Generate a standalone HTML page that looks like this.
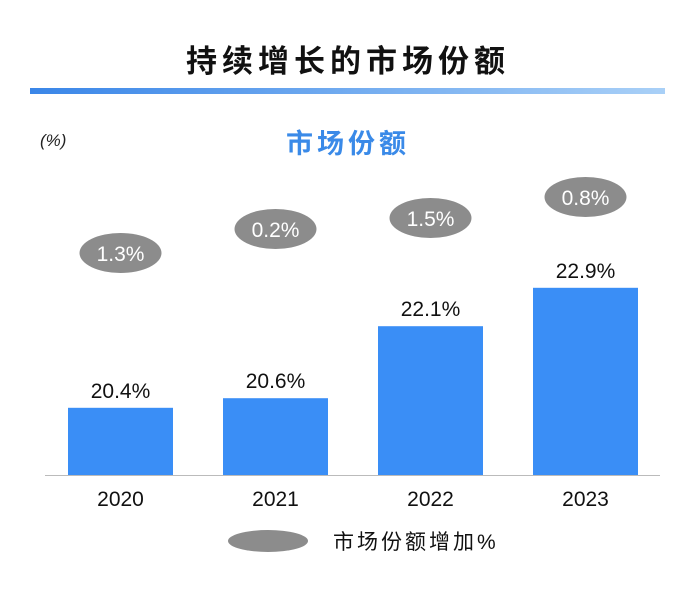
<!DOCTYPE html>
<html><head><meta charset="utf-8"><style>
html,body{margin:0;padding:0;background:#fff;}
body{width:700px;height:586px;overflow:hidden;font-family:"Liberation Sans","Noto Sans CJK SC",sans-serif;}
</style></head><body>
<svg id="chart" width="700" height="586" viewBox="0 0 700 586" xmlns="http://www.w3.org/2000/svg">
<defs>
<linearGradient id="hdr" x1="0" x2="1" y1="0" y2="0">
<stop offset="0" stop-color="#3a86e8"/><stop offset="1" stop-color="#a9d0f7"/>
</linearGradient>
</defs>
<text x="348" y="72" text-anchor="middle" font-size="31" font-weight="bold" fill="#111" letter-spacing="5" font-family="'Liberation Sans','Noto Sans CJK SC',sans-serif">持续增长的市场份额</text>
<rect x="30" y="88" width="635" height="6" fill="url(#hdr)"/>
<text x="40" y="146" font-size="17" font-style="italic" fill="#222">(%)</text>
<text x="348" y="153" text-anchor="middle" font-size="27" font-weight="bold" fill="#3a8ae8" letter-spacing="4" font-family="'Liberation Sans','Noto Sans CJK SC',sans-serif">市场份额</text>
<line x1="45" y1="475.5" x2="660" y2="475.5" stroke="#bbb" stroke-width="1"/>
<g id="marks"></g>
<ellipse cx="268" cy="541" rx="40" ry="11" fill="#8c8c8c"/>
<text x="333" y="549" font-size="21" fill="#111" letter-spacing="3" font-family="'Liberation Sans','Noto Sans CJK SC',sans-serif">市场份额增加%</text>
</svg>
<script>
const categories = ["2020","2021","2022","2023"];
const shareValues = [20.4,20.6,22.1,22.9];
const growthLabels = ["1.3%","0.2%","1.5%","0.8%"];
const bubbleY = [253,229,218,197];
const ns="http://www.w3.org/2000/svg";
const g=document.getElementById('marks');
const base=475, yMin=19, pxPerUnit=48;
function yScale(v){return base-(v-yMin)*pxPerUnit;}
function xCenter(i){return 120.5+i*155;}
const bw=105;
function mk(tag,attrs){const e=document.createElementNS(ns,tag);for(const k in attrs)e.setAttribute(k,attrs[k]);g.appendChild(e);return e;}
categories.forEach((c,i)=>{
  const top=yScale(shareValues[i]);
  const r=mk('rect',{x:xCenter(i)-bw/2,y:top,width:bw,height:base-top,fill:'#3a8ef6'});
  
  
  const v=mk('text',{x:xCenter(i),y:top-10,'text-anchor':'middle','font-size':'21',fill:'#111'});
  v.textContent=shareValues[i].toFixed(1)+'%';
  
  
  const xl=mk('text',{x:xCenter(i),y:506,'text-anchor':'middle','font-size':'21',fill:'#111'});
  xl.textContent=c;
  
  
  const el=mk('ellipse',{cx:xCenter(i),cy:bubbleY[i],rx:41,ry:20,fill:'#8c8c8c'});
  
  
  const gt=mk('text',{x:xCenter(i),y:bubbleY[i]+8,'text-anchor':'middle','font-size':'21',fill:'#fff'});
  gt.textContent=growthLabels[i];
  
  
});
</script>
</body></html>
